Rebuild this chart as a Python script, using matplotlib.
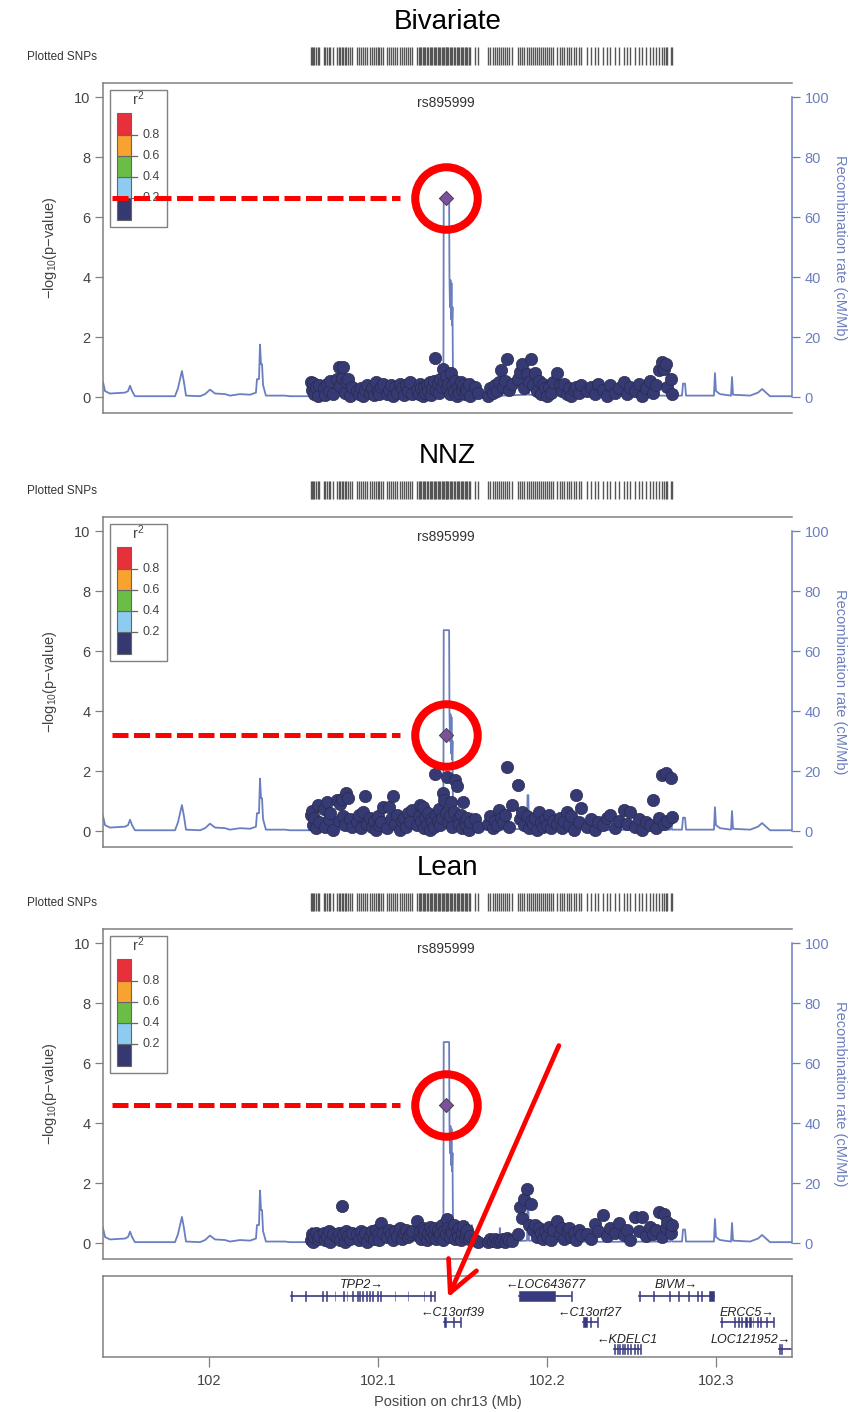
import matplotlib
matplotlib.use('Agg')
import matplotlib.pyplot as plt
from matplotlib.patches import Rectangle, FancyArrowPatch
from matplotlib.transforms import blended_transform_factory

plt.rcParams['font.family'] = ['Liberation Sans', 'DejaVu Sans']
plt.rcParams['mathtext.default'] = 'regular'

# ---------------- data ----------------
panel_titles = ['Bivariate', 'NNZ', 'Lean']
lead_name = 'rs895999'
lead_pos = 102.1400
lead_vals = [6.63, 3.20, 4.60]

snp_pos = [
    102.0598, 102.0605, 102.0612, 102.0620, 102.0630, 102.0641, 102.0650,
    102.0675, 102.0684, 102.0693, 102.0705, 102.0716, 102.0728,
    102.0757, 102.0765, 102.0773, 102.0782, 102.0790, 102.0799, 102.0810, 102.0821, 102.0833, 102.0845,
    102.0875, 102.0886, 102.0897, 102.0909, 102.0921, 102.0930,
    102.0952, 102.0961, 102.0972, 102.0983, 102.0995, 102.1006, 102.1017, 102.1025,
    102.1052, 102.1063, 102.1075, 102.1088, 102.1100, 102.1112, 102.1125, 102.1137, 102.1150, 102.1162,
    102.1175, 102.1188, 102.1200,
    102.1230, 102.1238, 102.1246, 102.1254, 102.1262, 102.1270, 102.1278, 102.1286, 102.1294, 102.1302,
    102.1310, 102.1318, 102.1326, 102.1334, 102.1342, 102.1350, 102.1358, 102.1366, 102.1374, 102.1382,
    102.1390, 102.1398, 102.1406, 102.1414, 102.1422, 102.1430, 102.1438, 102.1446, 102.1454, 102.1462,
    102.1470, 102.1478, 102.1486, 102.1494, 102.1502, 102.1510, 102.1518, 102.1526, 102.1534, 102.1540,
    102.1572, 102.1588,
    102.1650, 102.1662, 102.1675, 102.1688, 102.1700, 102.1712, 102.1725, 102.1738, 102.1750, 102.1762,
    102.1775, 102.1790,
    102.1828, 102.1840, 102.1852, 102.1864, 102.1876, 102.1888, 102.1900, 102.1912, 102.1924, 102.1936,
    102.1948, 102.1960, 102.1972, 102.1984, 102.1996, 102.2008, 102.2020, 102.2030,
    102.2058, 102.2072, 102.2086, 102.2100, 102.2114, 102.2128, 102.2142, 102.2156, 102.2170, 102.2184,
    102.2198,
    102.2236, 102.2260, 102.2284, 102.2300, 102.2330, 102.2352, 102.2370, 102.2400, 102.2425, 102.2450,
    102.2468, 102.2490, 102.2515, 102.2540, 102.2560, 102.2585, 102.2605, 102.2625, 102.2645, 102.2660,
    102.2675, 102.2690, 102.2700, 102.2708, 102.2728, 102.2738,
]

bivariate_logp = [
    0.52, 0.25, 0.48, 0.10, 0.35, 0.05, 0.42,
    0.30, 0.08, 0.45, 0.20, 0.55, 0.12,
    0.60, 1.00, 0.38, 0.65, 1.00, 0.15, 0.50, 0.60, 0.05, 0.35,
    0.20, 0.10, 0.30, 0.05, 0.25, 0.40,
    0.15, 0.30, 0.08, 0.50, 0.20, 0.12, 0.35, 0.45,
    0.10, 0.25, 0.40, 0.05, 0.35, 0.15, 0.45, 0.30, 0.08, 0.40, 0.20, 0.50, 0.10,
    0.25, 0.10, 0.45, 0.30, 0.05, 0.35, 0.15, 0.40, 0.20, 0.50,
    0.08, 0.30, 0.55, 1.29, 0.25, 0.45, 0.15, 0.60, 0.35, 0.93,
    0.50, 0.70, 0.30, 0.45, 0.10, 0.79, 0.40, 0.20, 0.55, 0.05,
    0.35, 0.15, 0.50, 0.25, 0.40, 0.10, 0.30, 0.20, 0.45, 0.05,
    0.35, 0.15,
    0.05, 0.30, 0.15, 0.40, 0.20, 0.50, 0.92, 0.35, 0.55, 1.26, 0.25, 0.45,
    0.60, 0.84, 1.09, 0.30, 0.77, 0.50, 1.26, 0.40, 0.81, 0.20, 0.55, 0.10, 0.45, 0.30, 0.05, 0.35, 0.15, 0.50,
    0.81, 0.40, 0.20, 0.45, 0.10, 0.30, 0.05, 0.25, 0.35, 0.15, 0.40,
    0.20, 0.35, 0.10, 0.45, 0.25, 0.05, 0.40, 0.15, 0.30, 0.50,
    0.10, 0.35, 0.20, 0.45, 0.05, 0.30, 0.55, 0.15, 0.40, 0.90,
    1.18, 0.95, 1.12, 0.35, 0.60, 0.10,
]

nnz_logp = [
    0.55, 0.68, 0.20, 0.45, 0.10, 0.87, 0.30,
    0.75, 0.15, 0.98, 0.40, 0.60, 0.05,
    1.03, 0.35, 0.90, 1.07, 0.50, 0.20, 1.28, 1.09, 0.40, 0.15,
    0.30, 0.55, 0.10, 0.65, 1.17, 0.25,
    0.45, 0.15, 0.35, 0.05, 0.50, 0.20, 0.30, 0.79,
    0.10, 0.81, 0.40, 1.17, 0.25, 0.55, 0.05, 0.35, 0.45, 0.15, 0.60, 0.30, 0.70,
    0.20, 0.50, 0.87, 0.35, 0.79, 0.10, 0.45, 0.25, 0.60, 0.05,
    0.40, 0.30, 0.15, 1.90, 0.55, 0.35, 0.75, 0.20, 0.45, 1.28,
    1.03, 0.60, 1.81, 0.30, 0.50, 0.98, 0.15, 0.65, 1.70, 1.50,
    0.40, 0.25, 0.55, 0.10, 0.98, 0.35, 0.20, 0.45, 0.05, 0.30,
    0.40, 0.15,
    0.25, 0.50, 0.10, 0.35, 0.20, 0.70, 0.45, 0.30, 0.55, 2.14, 0.15, 0.87,
    1.53, 0.40, 0.64, 0.20, 0.50, 0.10, 0.35, 0.25, 0.45, 0.05, 0.64, 0.30, 0.15, 0.40, 0.20, 0.55, 0.10, 0.35,
    0.25, 0.45, 0.10, 0.35, 0.64, 0.20, 0.50, 0.05, 1.20, 0.30, 0.76,
    0.15, 0.40, 0.05, 0.30, 0.20, 0.45, 0.53, 0.10, 0.35, 0.70,
    0.25, 0.64, 0.15, 0.40, 0.05, 0.30, 0.20, 1.03, 0.10, 0.45,
    1.87, 0.25, 1.94, 0.35, 1.76, 0.48,
]

lean_logp = [
    0.10, 0.30, 0.05, 0.20, 0.35, 0.15, 0.25,
    0.35, 0.10, 0.25, 0.40, 0.05, 0.30,
    0.20, 0.35, 0.10, 1.23, 0.30, 0.05, 0.40, 0.25, 0.15, 0.35,
    0.30, 0.10, 0.40, 0.20, 0.35, 0.05,
    0.25, 0.40, 0.15, 0.45, 0.30, 0.10, 0.68, 0.35,
    0.20, 0.45, 0.30, 0.10, 0.40, 0.25, 0.50, 0.15, 0.35, 0.45, 0.20, 0.30, 0.40,
    0.73, 0.25, 0.40, 0.15, 0.50, 0.30, 0.45, 0.10, 0.35, 0.55,
    0.20, 0.40, 0.30, 0.50, 0.15, 0.45, 0.25, 0.35, 0.60, 0.10,
    0.40, 0.30, 0.80, 0.50, 0.20, 0.45, 0.35, 0.60, 0.15, 0.40,
    0.25, 0.50, 0.10, 0.35, 0.57, 0.20, 0.30, 0.43, 0.15, 0.25,
    0.10, 0.05,
    0.05, 0.12, 0.08, 0.15, 0.03, 0.10, 0.06, 0.14, 0.04, 0.18, 0.10, 0.08,
    0.30, 1.21, 0.82, 1.46, 1.79, 0.60, 1.30, 0.45, 0.60, 0.20, 0.50, 0.35, 0.15, 0.40, 0.25, 0.55, 0.10, 0.45,
    0.74, 0.30, 0.50, 0.15, 0.40, 0.49, 0.20, 0.35, 0.10, 0.45, 0.27,
    0.30, 0.15, 0.63, 0.40, 0.93, 0.25, 0.50, 0.35, 0.66, 0.27,
    0.45, 0.10, 0.88, 0.40, 0.88, 0.23, 0.55, 0.30, 0.45, 1.04,
    0.20, 0.97, 0.50, 0.71, 0.32, 0.60,
]

rec_pos = [101.9370, 101.9382, 101.9411, 101.9500, 101.9518, 101.9530, 101.9542, 101.9559, 101.9796,
           101.9814, 101.9826, 101.9837, 101.9849, 101.9861, 101.9944, 101.9974, 102.0003, 102.0033,
           102.0092, 102.0121, 102.0181, 102.0240, 102.0275, 102.0281, 102.0293, 102.0299, 102.0305,
           102.0311, 102.0317, 102.0334, 102.0447, 102.0476, 102.0595, 102.0601, 102.0612, 102.0618,
           102.1009, 102.1246, 102.1352, 102.1384, 102.1386, 102.1418, 102.1420, 102.1423, 102.1426,
           102.1429, 102.1432, 102.1435, 102.1438, 102.1441, 102.1445, 102.1450, 102.1541, 102.1553,
           102.1559, 102.1716, 102.1718, 102.1721, 102.1879, 102.1882, 102.1887, 102.1890, 102.2073,
           102.2311, 102.2726, 102.2731, 102.2737, 102.2749, 102.2796, 102.2802, 102.2814, 102.2820,
           102.2985, 102.2991, 102.2997, 102.3021, 102.3086, 102.3092, 102.3098, 102.3199, 102.3246,
           102.3270, 102.3293, 102.3317, 102.3447]
rec_rate = [5.0, 2.0, 1.2, 1.5, 2.0, 3.8, 2.0, 0.3, 0.3,
            3.0, 6.0, 8.7, 5.0, 0.5, 0.3, 1.0, 2.5, 1.2,
            1.0, 0.5, 1.0, 0.8, 1.5, 6.0, 6.0, 17.5, 11.0,
            11.0, 4.0, 0.5, 0.5, 0.3, 0.3, 5.0, 5.0, 0.5,
            0.6, 0.8, 1.0, 1.5, 67.0, 67.0, 40.0, 30.0, 39.0,
            26.0, 38.0, 24.0, 30.0, 5.0, 2.0, 0.8, 0.5, 6.0,
            0.5, 0.5, 5.0, 0.5, 0.8, 12.0, 12.0, 0.8, 0.5,
            0.4, 0.5, 5.0, 0.5, 0.5, 0.5, 4.5, 4.5, 0.5,
            0.5, 8.0, 2.0, 1.0, 0.5, 6.7, 0.8, 0.5, 1.5,
            2.7, 1.5, 0.3, 0.3]

gene_names = ['TPP2', 'C13orf39', 'LOC643677', 'C13orf27', 'KDELC1', 'BIVM', 'ERCC5', 'LOC121952']
gene_start = [102.0481, 102.1390, 102.1833, 102.2209, 102.2392, 102.2543, 102.3026, 102.3372]
gene_end = [102.1327, 102.1483, 102.2141, 102.2291, 102.2550, 102.2985, 102.3334, 102.3700]
gene_strand = ['+', '-', '-', '-', '-', '+', '+', '+']
gene_row = [0, 1, 0, 1, 2, 0, 1, 2]
gene_exons = [
    [(102.0481, 102.0481), (102.0568, 102.0568), (102.0666, 102.0666), (102.0691, 102.0691), (102.0740, 102.0740),
     (102.0790, 102.0790), (102.0811, 102.0811), (102.0844, 102.0844), (102.0871, 102.0871), (102.0885, 102.0885),
     (102.0904, 102.0904), (102.0926, 102.0926), (102.0945, 102.0945), (102.0964, 102.0964), (102.0991, 102.0991),
     (102.1008, 102.1008), (102.1095, 102.1095), (102.1172, 102.1172), (102.1267, 102.1267), (102.1306, 102.1306),
     (102.1327, 102.1327)],
    [(102.1390, 102.1400), (102.1440, 102.1440), (102.1483, 102.1483)],
    [(102.1833, 102.2046), (102.2141, 102.2141)],
    [(102.2209, 102.2235), (102.2250, 102.2250), (102.2291, 102.2291)],
    [(102.2392, 102.2392), (102.2410, 102.2410), (102.2425, 102.2425), (102.2440, 102.2440), (102.2455, 102.2455),
     (102.2470, 102.2470), (102.2490, 102.2490), (102.2510, 102.2510), (102.2530, 102.2530), (102.2550, 102.2550)],
    [(102.2543, 102.2543), (102.2624, 102.2624), (102.2720, 102.2720), (102.2775, 102.2775), (102.2832, 102.2832),
     (102.2884, 102.2884), (102.2911, 102.2911), (102.2958, 102.2985)],
    [(102.3026, 102.3026), (102.3102, 102.3102), (102.3129, 102.3129), (102.3148, 102.3148), (102.3170, 102.3180),
     (102.3192, 102.3205), (102.3214, 102.3214), (102.3239, 102.3239), (102.3258, 102.3258), (102.3294, 102.3294),
     (102.3334, 102.3334)],
    [(102.3372, 102.3372), (102.3380, 102.3380)],
]

r2_colors = ['#363970', '#8ecbf0', '#6cbd45', '#f8a330', '#e8303a']
r2_ticks = ['0.2', '0.4', '0.6', '0.8']
xticks = [102.0, 102.1, 102.2, 102.3]
xtick_labels = ['102', '102.1', '102.2', '102.3']

# ---------------- style ----------------
XMIN, XMAX = 101.937, 102.3447
BLUE = '#6b7fc0'
GREY = '#808080'
TXT = '#444444'
NAVY = '#363a74'

fig = plt.figure(figsize=(8.52, 14.12), dpi=100)
L, W, H = 0.1209, 0.8087, 0.2337
bottoms = [0.7075, 0.4001, 0.1084]
series = [bivariate_logp, nnz_logp, lean_logp]

for i in range(3):
    ax = fig.add_axes([L, bottoms[i], W, H])
    ax2 = ax.twinx()
    ax.set_zorder(ax2.get_zorder() + 1)
    ax.patch.set_visible(False)
    ax.set_xlim(XMIN, XMAX)
    ax.set_ylim(-0.53, 10.47)
    ax2.set_ylim(-5.3, 104.7)

    # recombination
    ax2.plot(rec_pos, rec_rate, color=BLUE, lw=1.3, zorder=1)

    # spines
    for s in ['top', 'bottom', 'left']:
        ax.spines[s].set_color(GREY)
        ax.spines[s].set_linewidth(1.1)
    ax.spines['right'].set_visible(False)
    for s in ['top', 'bottom', 'left']:
        ax2.spines[s].set_visible(False)
    ax2.spines['right'].set_color(BLUE)
    ax2.spines['right'].set_linewidth(1.1)
    ax2.spines['right'].set_bounds(0, 100)

    ax.set_xticks([])
    ax.set_yticks([0, 2, 4, 6, 8, 10])
    ax.tick_params(axis='y', length=6, width=0.9, color=GREY, labelcolor=TXT, labelsize=10.5, pad=3)
    ax2.set_yticks([0, 20, 40, 60, 80, 100])
    ax2.tick_params(axis='y', length=6, width=0.9, color=BLUE, labelcolor=BLUE, labelsize=10.5, pad=3)

    ax.set_ylabel(r'$-$log$_{10}$(p$-$value)', fontsize=10.5, color=TXT, va='center')
    ax.yaxis.set_label_coords(-0.077, 0.5)
    ax2.set_ylabel('Recombination rate (cM/Mb)', fontsize=10.5, color=BLUE, rotation=270, va='center')
    ax2.yaxis.set_label_coords(1.07, 0.5)

    # scatter
    ax.scatter(snp_pos, series[i], s=78, facecolor=NAVY, edgecolor='#2a2a4a', linewidth=0.5, zorder=3)
    ax.scatter([lead_pos], [lead_vals[i]], marker='D', s=52, facecolor='#7d4f9f', edgecolor='#444444',
               linewidth=0.7, zorder=4)

    tr = blended_transform_factory(ax.transData, ax.transAxes)
    ax.text(lead_pos, 0.939, lead_name, transform=tr, ha='center', va='center', fontsize=10, color='#333333')

    # title and SNP rug
    ax.text(0.5, 1.185, panel_titles[i], transform=ax.transAxes, ha='center', va='center', fontsize=20)
    ax.text(-0.008, 1.079, 'Plotted SNPs', transform=ax.transAxes, ha='right', va='center', fontsize=8.5,
            color='#333333')
    ax.vlines(snp_pos + [lead_pos], 1.0545, 1.109, transform=tr, colors='#555555', lw=1.0, clip_on=False)

    # r2 legend
    ax.add_patch(Rectangle((0.0102, 0.5636), 0.0827, 0.4154, transform=ax.transAxes, facecolor='white',
                           edgecolor=GREY, lw=1.0, zorder=5))
    seg_b = [0.585, 0.6515, 0.7152, 0.7788, 0.8424]
    seg_t = [0.6515, 0.7152, 0.7788, 0.8424, 0.909]
    for k in range(5):
        ax.add_patch(Rectangle((0.0203, seg_b[k]), 0.0203, seg_t[k] - seg_b[k], transform=ax.transAxes,
                               facecolor=r2_colors[k], edgecolor='#666666', lw=0.8, zorder=6))
    for k in range(4):
        yk = seg_t[k]
        ax.plot([0.0406, 0.0493], [yk, yk], transform=ax.transAxes, color='#666666', lw=0.9, zorder=6)
        ax.text(0.0566, yk, r2_ticks[k], transform=ax.transAxes, ha='left', va='center', fontsize=9,
                color=TXT, zorder=6)
    ax.text(0.051, 0.952, r'r$^2$', transform=ax.transAxes, ha='center', va='center', fontsize=10.5,
            color=TXT, zorder=6)

    # red highlight annotations
    ax.plot([101.9423, 102.1127], [lead_vals[i], lead_vals[i]], color='red', lw=3.6,
            linestyle=(0, (3.2, 1.1)), zorder=8, solid_capstyle='butt', dash_capstyle='butt')
    ax.plot([lead_pos], [lead_vals[i]], 'o', ms=45, mfc='none', mec='red', mew=5.8, zorder=8, clip_on=False)

# ---------------- gene track ----------------
gax = fig.add_axes([L, 0.0390, W, 0.0574])
gax.set_xlim(XMIN, XMAX)
gax.set_ylim(0, 1)
for s in gax.spines.values():
    s.set_color(GREY)
    s.set_linewidth(1.1)
gax.set_yticks([])
gax.set_xticks(xticks)
gax.set_xticklabels(xtick_labels)
gax.tick_params(axis='x', length=7, width=0.9, color=GREY, labelcolor=TXT, labelsize=10.5, pad=5)
gax.set_xlabel('Position on chr13 (Mb)', fontsize=10.5, color=TXT, labelpad=5)

row_y = [0.753, 0.432, 0.099]
lab_y = [0.889, 0.543, 0.21]
GENE = '#383a80'
for g in range(len(gene_names)):
    y = row_y[gene_row[g]]
    gax.plot([gene_start[g], gene_end[g]], [y, y], color=GENE, lw=1.2, zorder=2)
    for (s, e) in gene_exons[g]:
        w = max(e - s, 0.0005)
        gax.add_patch(Rectangle((s, y - 0.06), w, 0.12, facecolor=GENE, edgecolor=GENE, lw=0.4, zorder=3))
    label = gene_names[g] + '\u2192' if gene_strand[g] == '+' else '\u2190' + gene_names[g]
    mid = (gene_start[g] + gene_end[g]) / 2
    if mid > XMAX - 0.02:
        gax.text(XMAX - 0.0005, lab_y[gene_row[g]], label, ha='right', va='center', fontsize=9,
                 style='italic', color='#222222')
    else:
        gax.text(mid, lab_y[gene_row[g]], label, ha='center', va='center', fontsize=9,
                 style='italic', color='#222222')

# red arrow pointing to the gene
arrow = FancyArrowPatch((560 / 852, 1 - 1043 / 1412), (447 / 852, 1 - 1300 / 1412),
                        transform=fig.transFigure, arrowstyle='->,head_length=1.1,head_width=0.55',
                        mutation_scale=20, lw=3.4, color='red', zorder=20)
fig.add_artist(arrow)

fig.savefig('out.png', dpi=100)
